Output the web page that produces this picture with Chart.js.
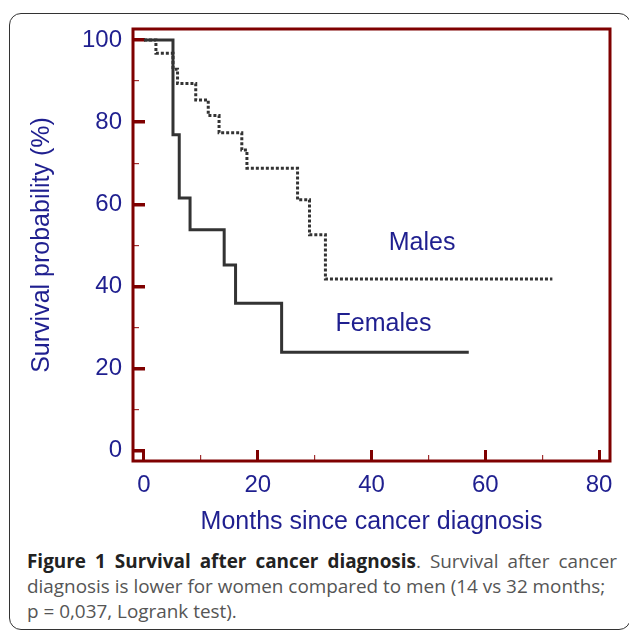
<!DOCTYPE html>
<html><head><meta charset="utf-8">
<script src="https://cdn.jsdelivr.net/npm/chart.js@4"></script>
<style>
html,body{margin:0;padding:0;width:629px;height:630px;overflow:hidden;background:#fff;}
#box{position:absolute;left:9px;top:13px;width:620px;height:615px;border:1.5px solid #333;border-radius:12px;}
#c{position:absolute;left:0;top:0;}
#cap{position:absolute;left:27px;top:549px;width:590px;font-family:"Open Sans";font-size:18.9px;line-height:25px;color:#555;}
.j{text-align:justify;text-align-last:justify;}
b{color:#222;}
</style></head>
<body>
<div id="box"></div>
<canvas id="c" width="629" height="540"></canvas>
<div id="cap"><div class="j"><b>Figure 1 Survival after cancer diagnosis</b>. Survival after cancer</div><div>diagnosis is lower for women compared to men (14 vs 32 months;</div><div>p = 0,037, Logrank test).</div></div>
<script>
// ---- data ----
const femaleMonths   = [0, 5.1, 6.2, 8.1, 14.1, 16.1, 24.2, 57.1];
const femaleSurvival = [100, 76.9, 61.5, 53.8, 45.2, 35.9, 24.0, 24.0];
const maleMonths     = [0, 2.1, 5.1, 5.9, 9.1, 11.3, 13.2, 17.2, 18.1, 27.0, 29.1, 31.9, 71.8];
const maleSurvival   = [100, 96.8, 92.9, 89.4, 85.4, 81.6, 77.4, 73.2, 68.8, 61.1, 52.6, 41.8, 41.8];
const xMajorTicks = [0, 20, 40, 60, 80];
const xMinorTicks = [10, 30, 50, 70];
const yMajorTicks = [0, 20, 40, 60, 80, 100];
const yMinorTicks = [10, 30, 50, 70, 90];
const seriesNames = ['Males', 'Females'];
const labelMonths = [48.9, 42.1];
const labelSurvival = [50.6, 30.9];

// ---- styling ----
const NAVY = '#1f1f8f';
const FRAME = '#7f0000';
const LINE = '#333333';
const X_MIN = -1.93, X_MAX = 81.93, Y_MIN = -2.51, Y_MAX = 102.68;

Chart.defaults.font.family = '"Liberation Sans", Arial, sans-serif';

const pts = (xs, ys) => xs.map((x, i) => ({x, y: ys[i]}));
const setTicks = arr => s => { s.ticks = arr.map(v => ({value: v})); };
const fitH = h => s => { s.height = h; s.paddingLeft = 0; s.paddingRight = 0; s.paddingTop = 0; s.paddingBottom = 0; };
const fitW = w => s => { s.width = w; s.paddingLeft = 0; s.paddingRight = 0; s.paddingTop = 0; s.paddingBottom = 0; };

const frame = {
  id: 'frame',
  afterDraw(chart) {
    const {ctx, chartArea: a} = chart;
    ctx.save();
    ctx.strokeStyle = FRAME; ctx.lineWidth = 3;
    ctx.strokeRect(a.left, a.top, a.right - a.left, a.bottom - a.top);
    ctx.restore();
  }
};
const seriesText = {
  id: 'seriesText',
  afterDatasetsDraw(chart) {
    const {ctx, scales} = chart;
    ctx.save();
    ctx.fillStyle = NAVY;
    ctx.font = '25px "Liberation Sans", Arial, sans-serif';
    ctx.textAlign = 'center'; ctx.textBaseline = 'middle';
    seriesNames.forEach((t, i) => {
      ctx.fillText(t, scales.x.getPixelForValue(labelMonths[i]), scales.y.getPixelForValue(labelSurvival[i]));
    });
    ctx.restore();
  }
};

new Chart(document.getElementById('c'), {
  type: 'line',
  data: {
    datasets: [
      {label: 'Females', data: pts(femaleMonths, femaleSurvival), stepped: true,
       borderColor: LINE, borderWidth: 3, pointRadius: 0, fill: false, borderJoinStyle: 'miter'},
      {label: 'Males', data: pts(maleMonths, maleSurvival), stepped: true,
       borderColor: LINE, borderWidth: 3, borderDash: [3, 2], pointRadius: 0, fill: false, borderJoinStyle: 'miter'}
    ]
  },
  options: {
    responsive: false, animation: false, devicePixelRatio: 1,
    layout: {padding: {left: 0, top: 29, right: 19, bottom: 0}},
    plugins: {legend: {display: false}, tooltip: {enabled: false}},
    scales: {
      x: {
        type: 'linear', position: 'bottom', min: X_MIN, max: X_MAX, weight: 1,
        afterBuildTicks: setTicks(xMajorTicks),
        afterFit: fitH(79),
        border: {display: false},
        grid: {drawOnChartArea: false, drawTicks: true, tickLength: -11, color: FRAME, lineWidth: 3},
        ticks: {color: NAVY, font: {size: 24}, padding: 20.6, maxRotation: 0, autoSkip: false},
        title: {display: true, text: 'Months since cancer diagnosis', color: NAVY, font: {size: 25}, padding: {top: 0, bottom: 3.3}}
      },
      xm: {
        type: 'linear', position: 'bottom', min: X_MIN, max: X_MAX, weight: 0,
        afterBuildTicks: setTicks(xMinorTicks),
        afterFit: fitH(0),
        border: {display: false},
        grid: {drawOnChartArea: false, drawTicks: true, tickLength: -6, color: '#a03030', lineWidth: 1.2},
        ticks: {display: false}
      },
      y: {
        type: 'linear', position: 'left', min: Y_MIN, max: Y_MAX, weight: 1,
        afterBuildTicks: setTicks(yMajorTicks),
        afterFit: fitW(133),
        border: {display: false},
        grid: {drawOnChartArea: false, drawTicks: true, tickLength: -12, color: FRAME, lineWidth: 3.5},
        ticks: {color: NAVY, font: {size: 24}, padding: 23, autoSkip: false},
        title: {display: true, text: 'Survival probability (%)', color: NAVY, font: {size: 25}, padding: {top: 27, bottom: 0}}
      },
      ym: {
        type: 'linear', position: 'left', min: Y_MIN, max: Y_MAX, weight: 0,
        afterBuildTicks: setTicks(yMinorTicks),
        afterFit: fitW(0),
        border: {display: false},
        grid: {drawOnChartArea: false, drawTicks: true, tickLength: -6, color: '#a03030', lineWidth: 1.2},
        ticks: {display: false}
      }
    }
  },
  plugins: [frame, seriesText]
});
</script>
</body></html>
